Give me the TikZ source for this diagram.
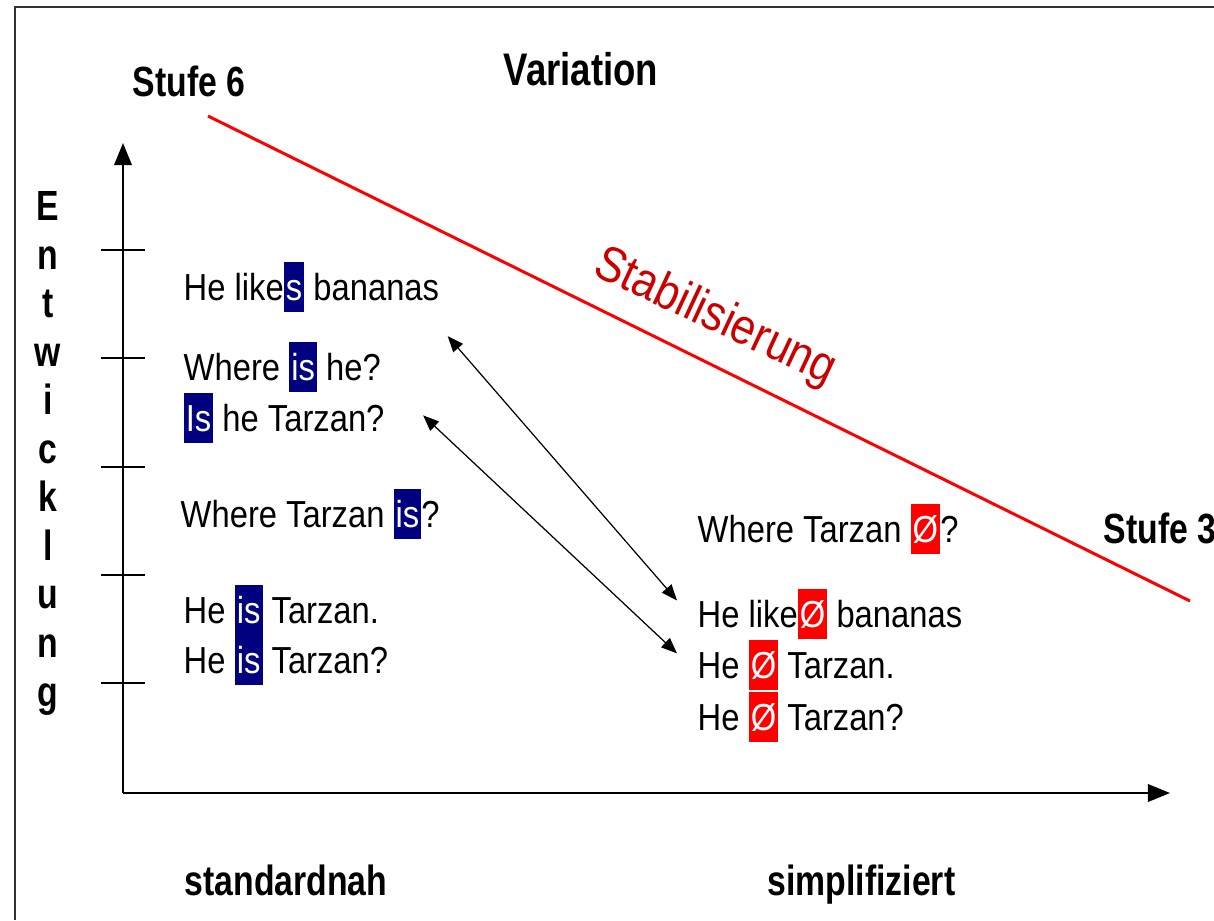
\documentclass[tikz,border=0pt]{standalone}
\usepackage{fontspec}
\setmainfont{Liberation Sans}[FakeStretch=0.87]
\newfontfamily\labelfont{Liberation Sans}[FakeStretch=0.8]
\usepackage{xcolor}
\usetikzlibrary{arrows.meta,positioning,calc}
\definecolor{hlnavy}{HTML}{000080}
\definecolor{hlred}{HTML}{FF0000}
\definecolor{stabred}{HTML}{CC0000}

% highlighted morphemes
\newcommand\hlnavy[1]{{\setlength\fboxsep{0pt}\colorbox{hlnavy}{\rule[-0.33em]{0pt}{1.33em}\kern0.6pt\textcolor{white}{#1}\kern0.6pt}}}
\newcommand\hlzero{{\setlength\fboxsep{0pt}\colorbox{hlred}{\rule[-0.33em]{0pt}{1.33em}\kern0.6pt\textcolor{white}{Ø}\kern0.6pt}}}

\begin{document}
\begin{tikzpicture}[
  x=0.01cm, y=-0.01cm,
  sent/.style={anchor=base west, inner sep=0pt, font=\fontsize{10.7}{14.2}\selectfont},
  lbl/.style={anchor=base west, inner sep=0pt, font=\labelfont\bfseries\fontsize{12}{14}\selectfont},
  axis/.style={line width=0.6pt, -{Triangle[length=6.3pt, width=5pt]}},
  tick/.style={line width=0.45pt},
  stabline/.style={line width=0.85pt, hlred},
  pairarrow/.style={{Triangle[length=4.5pt, width=3.6pt]}-{Triangle[length=4.5pt, width=3.6pt]}, line width=0.35pt},
]
\useasboundingbox (0,0) rectangle (1214,920);
% frame
\draw[line width=0.5pt, black!80] (15,920) |- (1214,7);

% axes
\coordinate (origin) at (123,793);
\coordinate (ytop) at (123,143);
\coordinate (xend) at (1170,793);
\draw[axis] (origin) -- (ytop);
\draw[axis] (origin) -- (xend);
\foreach \ty in {250,358,467,575,683}
  \draw[tick] (101,\ty) -- (145,\ty);

% labels
\node[lbl] (stufe6) at (132,96) {Stufe 6};
\node[lbl, font=\labelfont\bfseries\fontsize{13}{15}\selectfont] (variation) at (503,85) {Variation};
\node[lbl] (stufe3) at (1103,543) {Stufe 3};
\node[lbl] (standard) at (184,895) {standardnah};
\node[lbl] (simpl) at (767,895) {simplifiziert};
\node[anchor=north, inner sep=0pt, align=center, font=\labelfont\bfseries\fontsize{12}{13.8}\selectfont]
  (entw) at (48,191) {E\\n\\t\\w\\i\\c\\k\\l\\u\\n\\g};

% Stabilisierung
\coordinate (s6) at (208,116);
\coordinate (s3) at (1190,601);
\draw[stabline] (s6) -- (s3);
\node[rotate=-25, inner sep=0pt, text=stabred, font=\fontsize{14.2}{16}\selectfont] (stab) at (715,318) {Stabilisierung};

% standard forms
\node[sent] (likesL) at (183,300) {He like\hlnavy{s} bananas};
\node[sent] (whereL) at (183,380) {Where \hlnavy{is} he?};
\node[sent] (isL) at (183,431) {\hlnavy{Is} he Tarzan?};
\node[sent] (wtL) at (180,527) {Where Tarzan \hlnavy{is}?};
\node[sent] (heL) at (183,623) {He \hlnavy{is} Tarzan.};
\node[sent] (heqL) at (183,673) {He \hlnavy{is} Tarzan?};

% simplified forms
\node[sent] (wtR) at (697,542) {Where Tarzan \hlzero?};
\node[sent] (likeR) at (697,627) {He like\hlzero{} bananas};
\node[sent] (heR) at (697,678) {He \hlzero{} Tarzan.};
\node[sent] (heqR) at (697,730) {He \hlzero{} Tarzan?};

% Arrows
\draw[pairarrow] ($(likesL.south east)+(8,23)$) -- ($(likeR.west)+(-20,-14)$);
\draw[pairarrow] ($(isL.east)+(38,-3)$) -- ($(heR.west)+(-20,-12)$);
\end{tikzpicture}
\end{document}
